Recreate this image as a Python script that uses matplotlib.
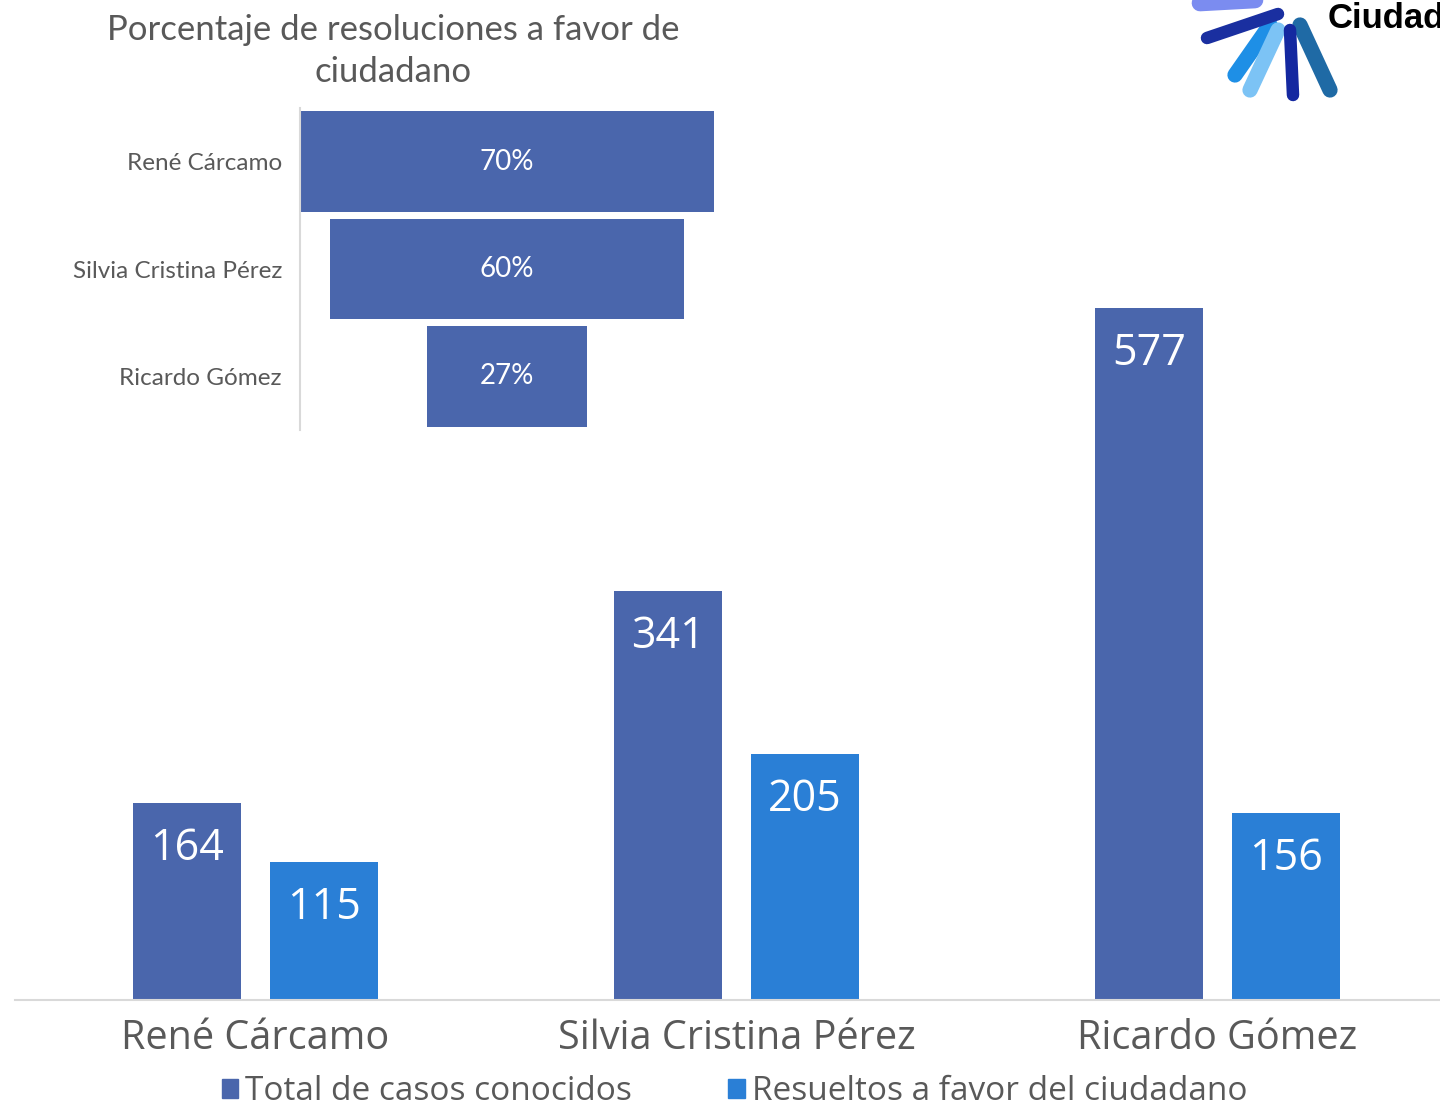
import matplotlib.pyplot as plt
from matplotlib.patches import Patch

nombres = ['René Cárcamo', 'Silvia Cristina Pérez', 'Ricardo Gómez']
total_casos = [164, 341, 577]
resueltos = [115, 205, 156]
porcentajes = [70, 60, 27]

c_total = '#4A66AC'
c_res = '#2A7FD6'
gris = '#595959'

W, H = 1440, 1110
fig = plt.figure(figsize=(W / 100, H / 100), dpi=100)
plt.rcParams['font.family'] = ['Lato', 'DejaVu Sans']
ancho = ['Open Sans', 'DejaVu Sans']

def px_axes(x0, y0, x1, y1):
    # pixel box (top-left origin) -> figure axes
    return fig.add_axes([x0 / W, 1 - y1 / H, (x1 - x0) / W, (y1 - y0) / H])

# main grouped bars
ax = px_axes(15, 100, 1440, 1000)
x = list(range(len(nombres)))
bw = 0.2245
off = 0.1424
b1 = ax.bar([i - off for i in x], total_casos, bw, color=c_total)
b2 = ax.bar([i + off for i in x], resueltos, bw, color=c_res)
for bars in (b1, b2):
    for r in bars:
        ax.annotate(str(int(r.get_height())),
                    (r.get_x() + r.get_width() / 2, r.get_height()),
                    xytext=(0, -33), textcoords='offset points',
                    ha='center', va='center', color='white', fontsize=31,
                    family=ancho)
ax.set_xlim(-0.5, -0.5 + 1425 / 481)
ax.set_ylim(0, 750)
ax.set_xticks(x)
ax.set_xticklabels(nombres, fontsize=28.5, color=gris, family=ancho)
ax.tick_params(axis='x', length=0, pad=13)
ax.set_yticks([])
for s in ['top', 'right', 'left']:
    ax.spines[s].set_visible(False)
ax.spines['bottom'].set_color('#D9D9D9')
ax.spines['bottom'].set_linewidth(1.5)
ax.patch.set_alpha(0)

fig.legend(handles=[Patch(color=c_total, label='Total de casos conocidos'),
                    Patch(color=c_res, label='Resueltos a favor del ciudadano')],
           loc='center', bbox_to_anchor=(0.51, 1 - 1092 / H), ncol=2,
           frameon=False, labelcolor=gris, handlelength=0.5,
           handleheight=0.5, handletextpad=0.2, columnspacing=2.9,
           borderpad=0.2, prop={'family': ancho, 'size': 24})

# funnel inset
fx = px_axes(300, 108, 714, 430)
yy = list(range(len(porcentajes)))
fx.barh(yy, porcentajes, height=0.94, left=[-p / 2 for p in porcentajes], color=c_total)
for i, p in enumerate(porcentajes):
    fx.text(0, i, f'{p}%', ha='center', va='center', color='white', fontsize=20)
fx.set_xlim(-35, 35)
fx.set_ylim(2.5, -0.5)
fx.set_yticks(yy)
fx.set_yticklabels(nombres, fontsize=17.5, color=gris)
fx.tick_params(axis='y', length=0, pad=13)
fx.set_xticks([])
for s in ['top', 'right', 'bottom']:
    fx.spines[s].set_visible(False)
fx.spines['left'].set_color('#D9D9D9')
fx.spines['left'].set_linewidth(1.5)
fx.patch.set_alpha(0)

fig.text(393 / W, 1 - 51 / H, 'Porcentaje de resoluciones a favor de\nciudadano',
         ha='center', va='center', fontsize=25, color=gris, linespacing=1.35)

# logo (rough sketch of the hands + name)
lg = px_axes(1190, 0, 1340, 110)
lg.set_xlim(1190, 1340)
lg.set_ylim(110, 0)
lg.axis('off')
hands = [((1235, 75), (1270, 25), '#1E8FE6', 11),
         ((1250, 90), (1278, 30), '#7CC3F5', 11),
         ((1330, 90), (1300, 25), '#1F6AA5', 11),
         ((1293, 95), (1290, 30), '#1428A0', 9),
         ((1207, 38), (1278, 14), '#1A2FA0', 9),
         ((1200, 3), (1255, 0), '#7B8CF0', 12)]
for (a, b, col, lw) in hands:
    lg.plot([a[0], b[0]], [a[1], b[1]], color=col, lw=lw, solid_capstyle='round')
fig.text(1328 / W, 1 - 18 / H, 'Ciudadanía', ha='left', va='center',
         fontsize=25, fontweight='bold', color='black', family='Liberation Sans')

fig.savefig('out.png', dpi=100)
